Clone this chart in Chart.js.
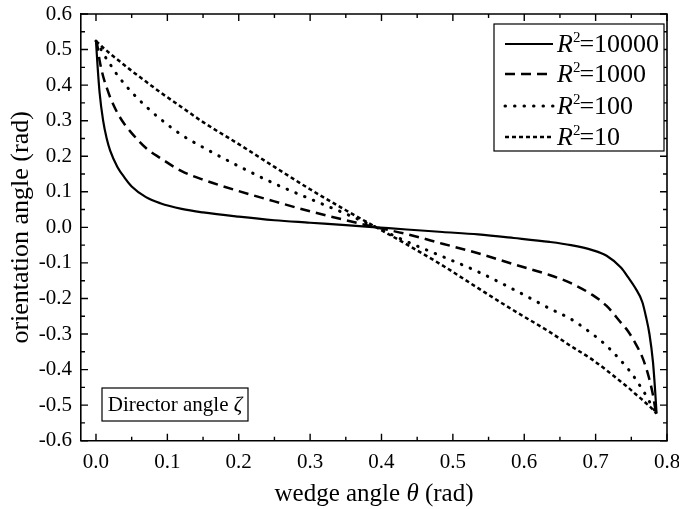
<!DOCTYPE html>
<html><head><meta charset="utf-8">
<script src="https://cdn.jsdelivr.net/npm/chart.js@4"></script>
<style>html,body{margin:0;padding:0;background:#fff;}canvas{display:block;}</style>
</head><body>
<canvas id="c" width="679" height="509"></canvas>
<script>
// ---- data ----
const theta = [0, 0.002, 0.005, 0.01, 0.015, 0.02, 0.03, 0.04, 0.05, 0.07, 0.09, 0.12, 0.15, 0.2, 0.25, 0.3, 0.35, 0.3927,
               0.4354, 0.4854, 0.5354, 0.5854, 0.6354, 0.6654, 0.6954, 0.7154, 0.7354, 0.7454, 0.7554, 0.7654, 0.7704, 0.7754, 0.7804, 0.7834, 0.7854];
const zetaR10000 = [0.524, 0.46, 0.38, 0.30, 0.25, 0.215, 0.17, 0.14, 0.115, 0.085, 0.068, 0.052, 0.042, 0.03, 0.02, 0.013, 0.006, 0,
               -0.006, -0.013, -0.02, -0.03, -0.041, -0.05, -0.064, -0.08, -0.113, -0.14, -0.17, -0.21, -0.25, -0.30, -0.38, -0.46, -0.524];
const zetaR1000 = [0.524, 0.51, 0.47, 0.425, 0.393, 0.365, 0.322, 0.29, 0.265, 0.223, 0.195, 0.158, 0.134, 0.102, 0.073, 0.045, 0.02, 0,
               -0.019, -0.046, -0.073, -0.104, -0.134, -0.157, -0.19, -0.221, -0.268, -0.292, -0.325, -0.365, -0.393, -0.428, -0.472, -0.508, -0.524];
const zetaR100 = [0.524, 0.518, 0.508, 0.49, 0.473, 0.458, 0.428, 0.403, 0.38, 0.34, 0.305, 0.26, 0.225, 0.172, 0.123, 0.08, 0.038, 0,
               -0.04, -0.082, -0.125, -0.175, -0.228, -0.258, -0.30, -0.333, -0.375, -0.398, -0.425, -0.456, -0.472, -0.49, -0.507, -0.517, -0.524];
const zetaR10 = [0.524, 0.52, 0.515, 0.505, 0.497, 0.488, 0.472, 0.456, 0.44, 0.41, 0.38, 0.338, 0.296, 0.234, 0.17, 0.107, 0.048, 0,
               -0.048, -0.107, -0.171, -0.234, -0.294, -0.334, -0.372, -0.402, -0.434, -0.45, -0.468, -0.485, -0.494, -0.503, -0.513, -0.52, -0.524];
const seriesR2 = ['10000', '1000', '100', '10'];
const xTickValues = [0, 0.1, 0.2, 0.3, 0.4, 0.5, 0.6, 0.7, 0.8];
const yTickValues = [-0.6, -0.5, -0.4, -0.3, -0.2, -0.1, 0, 0.1, 0.2, 0.3, 0.4, 0.5, 0.6];
const xTitleParts = ['wedge angle ', 'θ', ' (rad)'];
const yTitle = 'orientation angle (rad)';
const noteParts = ['Director angle ', 'ζ'];

// ---- styles ----
const SERIF = '"Liberation Serif", "Times New Roman", serif';
const lineStyles = [
  {dash: [], width: 2.2, cap: 'butt'},
  {dash: [10, 6], width: 2.5, cap: 'butt'},
  {dash: [0.5, 9], width: 3, cap: 'round'},
  {dash: [4, 3], width: 2.5, cap: 'butt'}
];
const allSeries = [zetaR10000, zetaR1000, zetaR100, zetaR10];

const datasets = allSeries.map((ys, i) => ({
  label: 'R2=' + seriesR2[i],
  r2: seriesR2[i],
  data: theta.map((x, k) => ({x: x, y: ys[k]})),
  borderColor: '#000',
  backgroundColor: '#000',
  borderWidth: lineStyles[i].width,
  borderDash: lineStyles[i].dash,
  borderCapStyle: lineStyles[i].cap,
  pointRadius: 0,
  showLine: true,
  fill: false,
  cubicInterpolationMode: 'monotone'
}));

function fmt(v) { return Math.abs(v) < 1e-9 ? '0.0' : v.toFixed(1); }

const deco = {
  id: 'deco',
  afterDraw(chart) {
    const ctx = chart.ctx;
    const a = chart.chartArea;
    const xs = chart.scales.x, ys = chart.scales.y;
    ctx.save();
    ctx.strokeStyle = '#000';
    ctx.fillStyle = '#000';
    // frame top/right
    ctx.lineWidth = 1.6;
    ctx.beginPath();
    ctx.moveTo(a.left, a.top); ctx.lineTo(a.right, a.top); ctx.lineTo(a.right, a.bottom);
    ctx.stroke();
    // inward ticks
    ctx.lineWidth = 1.4;
    ctx.beginPath();
    for (let i = 0; i < xTickValues.length; i++) {
      const v = xTickValues[i];
      const px = xs.getPixelForValue(v);
      ctx.moveTo(px, a.bottom); ctx.lineTo(px, a.bottom - 7);
      ctx.moveTo(px, a.top); ctx.lineTo(px, a.top + 7);
      if (i < xTickValues.length - 1) {
        const pm = xs.getPixelForValue(v + 0.05);
        ctx.moveTo(pm, a.bottom); ctx.lineTo(pm, a.bottom - 4);
        ctx.moveTo(pm, a.top); ctx.lineTo(pm, a.top + 4);
      }
    }
    for (let i = 0; i < yTickValues.length; i++) {
      const v = yTickValues[i];
      const py = ys.getPixelForValue(v);
      ctx.moveTo(a.left, py); ctx.lineTo(a.left + 7, py);
      ctx.moveTo(a.right, py); ctx.lineTo(a.right - 7, py);
      if (i < yTickValues.length - 1) {
        const pm = ys.getPixelForValue(v + 0.05);
        ctx.moveTo(a.left, pm); ctx.lineTo(a.left + 4, pm);
        ctx.moveTo(a.right, pm); ctx.lineTo(a.right - 4, pm);
      }
    }
    ctx.stroke();

    // legend
    const lx = 494, ly = 24, lw = 170, lh = 127;
    ctx.fillStyle = '#fff';
    ctx.fillRect(lx, ly, lw, lh);
    ctx.lineWidth = 1.2;
    ctx.strokeRect(lx, ly, lw, lh);
    ctx.fillStyle = '#000';
    const rowY = [44, 74, 106, 137];
    chart.data.datasets.forEach((ds, i) => {
      const y = rowY[i];
      ctx.save();
      ctx.lineWidth = ds.borderWidth;
      ctx.setLineDash(ds.borderDash);
      ctx.lineCap = ds.borderCapStyle;
      ctx.beginPath();
      ctx.moveTo(505, y); ctx.lineTo(553, y);
      ctx.stroke();
      ctx.restore();
      ctx.textBaseline = 'alphabetic';
      let tx = 557;
      const base = y + 8;
      ctx.font = 'italic 26px ' + SERIF;
      ctx.fillText('R', tx, base);
      tx += ctx.measureText('R').width;
      ctx.font = '15px ' + SERIF;
      ctx.fillText('2', tx, base - 10);
      tx += ctx.measureText('2').width - 1;
      ctx.font = '26px ' + SERIF;
      ctx.fillText('=' + ds.r2, tx, base);
    });

    // annotation box
    ctx.lineWidth = 1.2;
    ctx.strokeRect(102, 388, 146, 33);
    ctx.textBaseline = 'alphabetic';
    ctx.font = '21px ' + SERIF;
    const w1 = ctx.measureText(noteParts[0]).width;
    ctx.font = 'italic 21px ' + SERIF;
    const w2 = ctx.measureText(noteParts[1]).width;
    let nx = 175 - (w1 + w2) / 2;
    ctx.font = '21px ' + SERIF;
    ctx.fillText(noteParts[0], nx, 411);
    ctx.font = 'italic 21px ' + SERIF;
    ctx.fillText(noteParts[1], nx + w1, 411);

    // x title
    const fonts = ['25px ' + SERIF, 'italic 25px ' + SERIF, '25px ' + SERIF];
    let widths = xTitleParts.map((t, i) => { ctx.font = fonts[i]; return ctx.measureText(t).width; });
    let total = widths.reduce((s, w) => s + w, 0);
    let cx = (a.left + a.right) / 2 - total / 2;
    ctx.textBaseline = 'alphabetic';
    xTitleParts.forEach((t, i) => { ctx.font = fonts[i]; ctx.fillText(t, cx, 501); cx += widths[i]; });
    ctx.restore();
  }
};

new Chart(document.getElementById('c'), {
  type: 'scatter',
  data: {datasets: datasets},
  options: {
    responsive: false,
    animation: false,
    events: [],
    layout: {padding: {left: 0, right: 12, top: 14, bottom: 0}},
    plugins: {legend: {display: false}, tooltip: {enabled: false}},
    scales: {
      x: {
        type: 'linear', min: -0.021, max: 0.8,
        grid: {display: false, drawTicks: false},
        border: {display: true, color: '#000', width: 1.6},
        ticks: {
          stepSize: 0.1, includeBounds: false, color: '#000', padding: 9,
          font: {family: SERIF, size: 21}, maxRotation: 0,
          callback: v => fmt(v)
        },
        afterBuildTicks: s => { s.ticks = xTickValues.map(v => ({value: v})); },
        afterFit: s => { s.height = 68.3; s.paddingLeft = 0; s.paddingRight = 0; }
      },
      y: {
        type: 'linear', min: -0.6, max: 0.6,
        grid: {display: false, drawTicks: false},
        border: {display: true, color: '#000', width: 1.6},
        ticks: {
          stepSize: 0.1, color: '#000', padding: 9,
          font: {family: SERIF, size: 21},
          callback: v => fmt(v)
        },
        afterBuildTicks: s => { s.ticks = yTickValues.map(v => ({value: v})); },
        title: {display: true, text: yTitle, color: '#000', font: {family: SERIF, size: 26}, padding: {top: 6, bottom: 0}},
        afterFit: s => { s.width = 81; s.paddingTop = 0; s.paddingBottom = 0; }
      }
    }
  },
  plugins: [deco]
});
</script>
</body></html>
